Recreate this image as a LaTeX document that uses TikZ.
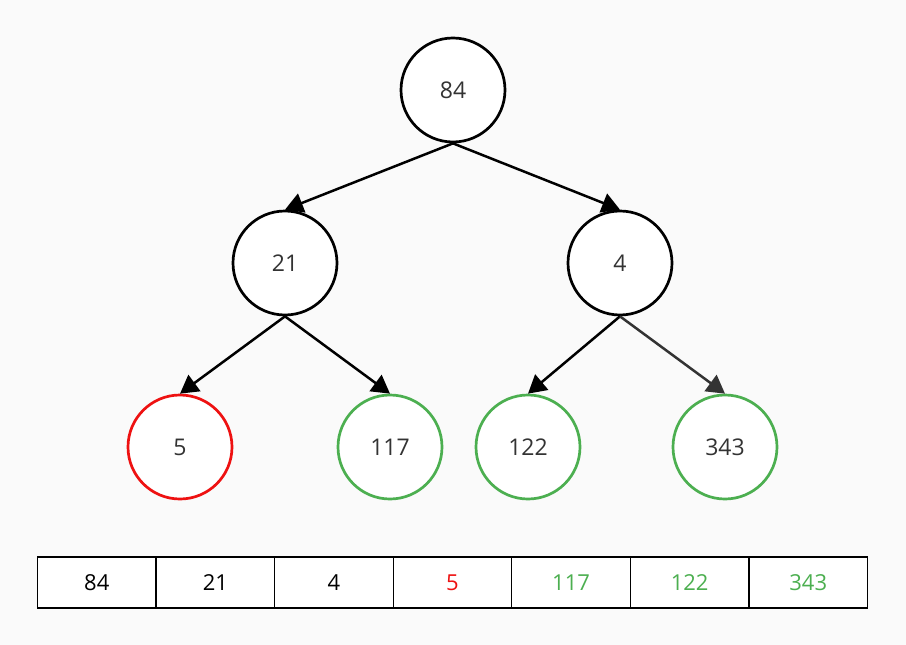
\documentclass[tikz,border=0pt]{standalone}
\usepackage{fontspec}
\setmainfont{Open Sans}
\usetikzlibrary{arrows.meta}
\definecolor{bg}{HTML}{FAFAFA}
\definecolor{txt}{HTML}{333333}
\definecolor{hred}{HTML}{EE1111}
\definecolor{hgreen}{HTML}{4CAF50}
\begin{document}
\begin{tikzpicture}[x=1pt,y=-1pt,
  tnode/.style={draw=black,line width=2.7pt,fill=white,circle,minimum size=104pt,inner sep=0pt,font=\fontsize{23}{27}\selectfont,text=txt},
  rednode/.style={tnode,draw=hred},
  greennode/.style={tnode,draw=hgreen},
  edge/.style={line width=2.5pt,-{Triangle[length=18pt,width=20pt]}},
  cell/.style={draw=black,line width=1.2pt,fill=white,minimum width=118.57pt,minimum height=51pt,inner sep=0pt,outer sep=0pt,anchor=west,font=\fontsize{22}{26}\selectfont}
]
\fill[bg] (0,0) rectangle (906,645);
\useasboundingbox (0,0) rectangle (906,645);
\node[tnode] (n84) at (453,90) {84};
\node[tnode] (n21) at (285,263) {21};
\node[tnode] (n4) at (620,263) {4};
\node[rednode] (n5) at (180,447) {5};
\node[greennode] (n117) at (390,447) {117};
\node[greennode] (n122) at (528,447) {122};
\node[greennode] (n343) at (725,447) {343};
\draw[edge] (n84.south) -- (n21.north);
\draw[edge] (n84.south) -- (n4.north);
\draw[edge] (n21.south) -- (n5.north);
\draw[edge] (n21.south) -- (n117.north);
\draw[edge] (n4.south) -- (n122.north);
\draw[edge,draw=txt,fill=txt] (n4.south) -- (n343.north);
\node[cell] (c1) at (37.5,582.5) {84};
\node[cell] (c2) at (c1.east) {21};
\node[cell] (c3) at (c2.east) {4};
\node[cell,text=hred] (c4) at (c3.east) {5};
\node[cell,text=hgreen] (c5) at (c4.east) {117};
\node[cell,text=hgreen] (c6) at (c5.east) {122};
\node[cell,text=hgreen] (c7) at (c6.east) {343};
\end{tikzpicture}
\end{document}
